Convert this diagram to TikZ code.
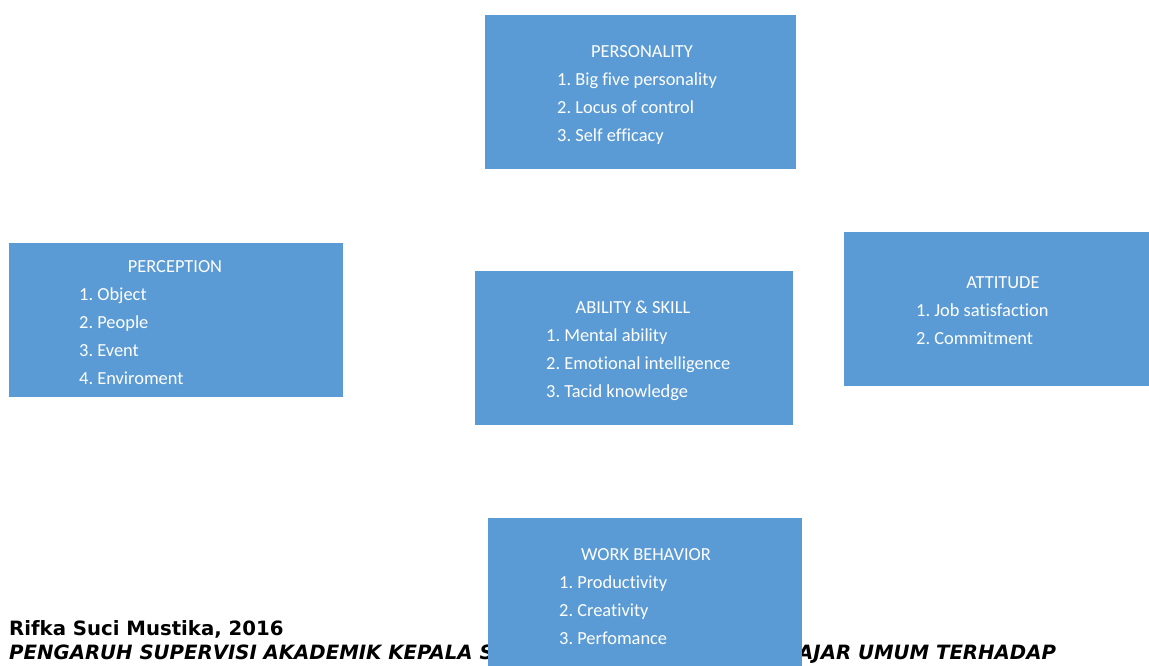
\documentclass[tikz,border=0pt]{standalone}
\usepackage{fontspec}
\setmainfont[Ligatures=NoCommon]{Carlito}
\newfontfamily\footfont{DejaVu Sans}
\usetikzlibrary{positioning}
\definecolor{boxblue}{RGB}{91,155,213}

\begin{document}
\begin{tikzpicture}[x=1pt,y=-1pt,
  box/.style={fill=boxblue,draw=none,anchor=north west,inner sep=0pt},
  head/.style={text=white,anchor=base,inner sep=0pt,font=\fontsize{18.4}{28}\selectfont},
  items/.style={text=white,anchor=base west,inner sep=0pt,align=left,font=\fontsize{18.4}{28}\selectfont},
  foot/.style={anchor=base west,inner sep=0pt,font=\footfont\bfseries\fontsize{19.7}{22}\selectfont}]
\useasboundingbox[fill=white] (0,0) rectangle (1149,665);
% footer text, partly under the last box
\node[foot] (author) at (9,635.5) {Rifka Suci Mustika, 2016};
\node[foot,font=\footfont\bfseries\itshape\fontsize{19.7}{22}\selectfont] (titleA) at (9,659) {PENGARUH SUPERVISI AKADEMIK KEPALA S};
\node[foot,font=\footfont\bfseries\itshape\fontsize{19.7}{22}\selectfont] (titleB) at (798,659) {AJAR UMUM TERHADAP};
% boxes
\node[box,minimum width=311,minimum height=154] (pers) at (485,15) {};
\node[head] (persT) at (642,57.5) {PERSONALITY};
\node[items] (persL) at (557,141.5) {1.\ Big five personality\\2.\ Locus of control\\3.\ Self efficacy};
\node[box,minimum width=334,minimum height=154] (perc) at (9,243) {};
\node[head] (percT) at (175,272) {PERCEPTION};
\node[items] (percL) at (79,384.5) {1.\ Object\\2.\ People\\3.\ Event\\4.\ Enviroment};
\node[box,minimum width=318,minimum height=154] (abil) at (475,271) {};
\node[head] (abilT) at (633,313) {ABILITY \& SKILL};
\node[items] (abilL) at (546,397) {1.\ Mental ability\\2.\ Emotional intelligence\\3.\ Tacid knowledge};
\node[box,minimum width=310,minimum height=154] (att) at (844,232) {};
\node[head] (attT) at (1003,288) {ATTITUDE};
\node[items] (attL) at (916,344) {1.\ Job satisfaction\\2.\ Commitment};
\node[box,minimum width=314,minimum height=160] (work) at (488,518) {};
\node[head] (workT) at (646,560) {WORK BEHAVIOR};
\node[items] (workL) at (559,644) {1.\ Productivity\\2.\ Creativity\\3.\ Perfomance};
\end{tikzpicture}
\end{document}
